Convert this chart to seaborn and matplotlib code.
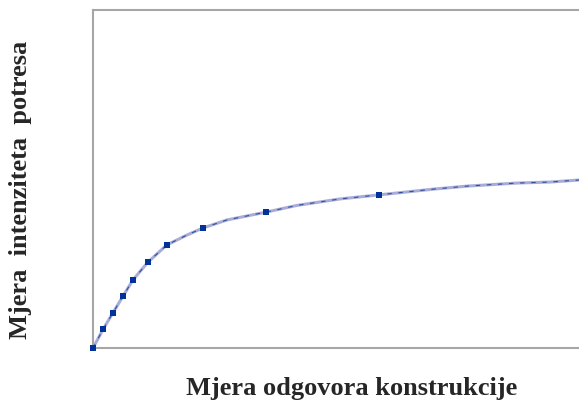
import matplotlib
matplotlib.use("Agg")
import matplotlib.pyplot as plt
import seaborn as sns
import pandas as pd

# marked points of the curve
resp_pts = [0, 2.1, 4.1, 6.2, 8.2, 11.3, 15.2, 22.6, 35.6, 58.8]
inten_pts = [0, 5.6, 10.4, 15.4, 20.1, 25.4, 30.5, 35.5, 40.2, 45.3]
# whole curve (marked points plus in-between readings)
resp_curve = [0, 2.1, 4.1, 6.2, 8.2, 11.3, 15.2, 19.3, 22.6, 27.6, 35.6, 42.0,
              50.8, 58.8, 70.0, 77.0, 87.2, 94.0, 100.0]
inten_curve = [0, 5.6, 10.4, 15.4, 20.1, 25.4, 30.5, 33.4, 35.5, 37.9, 40.2, 42.2,
               44.1, 45.3, 47.0, 47.9, 48.8, 49.1, 49.7]

curve = pd.DataFrame({"x": resp_curve, "y": inten_curve})
pts = pd.DataFrame({"x": resp_pts, "y": inten_pts})

sns.set_theme(style="white")
plt.rcParams['font.family'] = ['Liberation Serif', 'DejaVu Serif']

fig = plt.figure(figsize=(5.79, 4.05), dpi=100)
ax = fig.add_axes([0.1606, 0.1407, 0.8394, 0.8346])

sns.lineplot(data=curve, x="x", y="y", ax=ax, color="#a9add6", lw=2.2, sort=False)
sns.lineplot(data=curve, x="x", y="y", ax=ax, color="#2e4fa8", lw=0.8,
             linestyle=(0, (4, 6)), sort=False)
sns.scatterplot(data=pts, x="x", y="y", ax=ax, marker="s", s=16,
                color="#003399", edgecolor="none", zorder=5, clip_on=False)

ax.set_xlim(0, 100)
ax.set_ylim(0, 100)
ax.set_xticks([])
ax.set_yticks([])
ax.set_xlabel("")
ax.set_ylabel("")
for side in ["left", "top", "bottom"]:
    ax.spines[side].set_color("#a6a6a6")
    ax.spines[side].set_linewidth(1.5)
ax.spines["right"].set_visible(False)

fig.text(0.608, 0.04, "Mjera odgovora konstrukcije", ha="center", va="center",
         fontsize=19, fontweight="bold")
fig.text(0.036, 0.53, "Mjera  intenziteta  potresa", ha="center", va="center",
         rotation=90, fontsize=19, fontweight="bold")

fig.savefig("out.png", dpi=100)
